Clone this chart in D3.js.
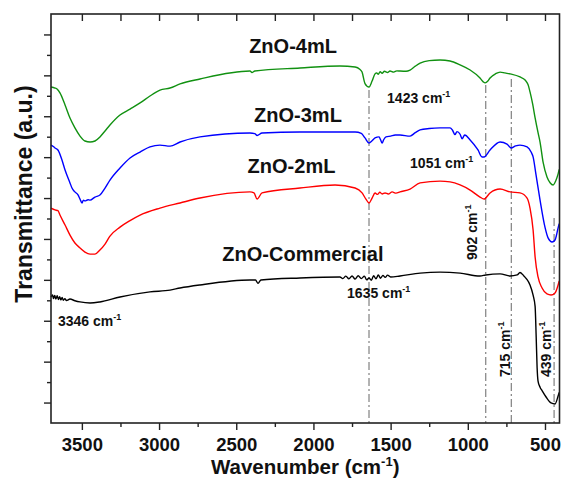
<!DOCTYPE html>
<html>
<head>
<meta charset="utf-8">
<script src="https://cdnjs.cloudflare.com/ajax/libs/d3/7.8.5/d3.min.js"></script>
<style>
  body { margin: 0; background: #fff; }
  svg { display: block; font-family: "Liberation Sans", Arial, sans-serif; font-weight: bold; }
</style>
</head>
<body>
<svg id="chart"></svg>
<script>
// FTIR spectra, [wavenumber, transmittance a.u.]
const zno4 = [
  [3700, 16.43], [3674, 16.38], [3661, 16.33], [3642, 16.14], [3609, 15.55], [3577, 14.91],
  [3545, 14.43], [3512, 14.03], [3480, 13.79], [3447, 13.74], [3415, 13.79], [3383, 13.99],
  [3350, 14.28], [3318, 14.57], [3253, 15.06], [3188, 15.35], [3123, 15.65], [3059, 15.99],
  [2994, 16.28], [2929, 16.38], [2864, 16.58], [2735, 16.82], [2411, 17.21], [2398, 17.14],
  [2380, 17.21], [2087, 17.36], [1828, 17.46], [1730, 17.41], [1700, 17.30], [1685, 17.16],
  [1666, 16.60], [1640, 16.43], [1620, 16.72], [1601, 17.07], [1590, 17.12], [1580, 17.05],
  [1568, 17.18], [1555, 17.10], [1540, 17.20], [1520, 17.14], [1504, 17.21], [1480, 17.16],
  [1460, 17.22], [1439, 17.21], [1400, 17.20], [1374, 17.26], [1340, 17.45], [1309, 17.60],
  [1250, 17.72], [1180, 17.75], [1115, 17.70], [1050, 17.51], [985, 17.26], [921, 16.87],
  [900, 16.68], [888, 16.63], [870, 16.72], [856, 16.87], [820, 17.08], [791, 17.16],
  [760, 17.12], [726, 17.07], [662, 16.92], [629, 16.77], [610, 16.55], [597, 16.19],
  [580, 15.60], [564, 14.92], [545, 14.20], [532, 13.74], [512, 12.74], [487, 12.03],
  [467, 11.75], [447, 11.64], [430, 11.85], [415, 12.18], [408, 12.40]
];

const zno3 = [
  [3700, 13.59], [3685, 13.52], [3674, 13.45], [3655, 13.35], [3629, 12.86], [3609, 12.37],
  [3577, 11.74], [3564, 11.49], [3545, 11.30], [3525, 11.15], [3512, 10.95], [3499, 10.76],
  [3490, 10.90], [3480, 10.86], [3460, 10.92], [3447, 10.90], [3415, 11.05], [3383, 11.15],
  [3350, 11.49], [3318, 11.88], [3253, 12.47], [3188, 12.96], [3123, 13.25], [3059, 13.50],
  [2994, 13.59], [2929, 13.54], [2864, 13.74], [2735, 13.99], [2411, 14.18], [2380, 14.15],
  [2365, 14.06], [2333, 14.18], [2087, 14.23], [1730, 14.23], [1690, 14.16], [1666, 13.94],
  [1640, 13.69], [1620, 13.80], [1601, 13.94], [1575, 13.99], [1565, 13.85], [1555, 13.69],
  [1545, 13.85], [1530, 13.99], [1500, 14.03], [1470, 14.08], [1439, 14.08], [1374, 14.03],
  [1340, 14.20], [1309, 14.33], [1250, 14.40], [1180, 14.43], [1115, 14.43], [1100, 14.33],
  [1083, 14.10], [1070, 14.25], [1050, 14.12], [1037, 13.90], [1020, 14.08], [985, 13.84],
  [934, 13.35], [908, 13.01], [895, 13.01], [856, 13.35], [791, 13.74], [746, 13.64],
  [720, 13.45], [690, 13.55], [662, 13.59], [616, 13.50], [590, 13.25], [577, 13.01],
  [558, 12.13], [532, 10.90], [499, 9.54], [480, 9.05], [454, 8.85], [435, 8.95],
  [415, 9.54], [408, 9.75]
];

const zno2 = [
  [3700, 10.51], [3674, 10.42], [3655, 10.38], [3642, 10.17], [3609, 9.68], [3577, 9.19],
  [3545, 8.80], [3512, 8.56], [3480, 8.36], [3447, 8.26], [3415, 8.26], [3383, 8.46],
  [3350, 8.75], [3318, 9.14], [3253, 9.58], [3188, 9.90], [3123, 10.17], [2994, 10.51],
  [2864, 10.76], [2735, 11.00], [2411, 11.30], [2385, 11.25], [2365, 10.95], [2333, 11.25],
  [2087, 11.49], [1860, 11.64], [1730, 11.49], [1685, 11.25], [1660, 10.95], [1640, 10.76],
  [1620, 11.00], [1601, 11.25], [1585, 11.18], [1570, 11.28], [1555, 11.20], [1536, 11.25],
  [1515, 11.20], [1490, 11.30], [1465, 11.24], [1439, 11.30], [1374, 11.44], [1309, 11.74],
  [1180, 11.83], [1115, 11.79], [1050, 11.64], [985, 11.39], [921, 11.05], [895, 10.95],
  [856, 11.25], [791, 11.44], [726, 11.30], [662, 11.25], [616, 11.00], [597, 10.51],
  [577, 9.44], [564, 8.12], [545, 7.14], [519, 6.60], [487, 6.31], [461, 6.26],
  [435, 6.36], [415, 6.75], [408, 6.95]
];

const znoCom = [
  [3700, 6.16], [3690, 6.26], [3684, 6.08], [3676, 6.24], [3668, 6.06], [3660, 6.22],
  [3652, 6.04], [3644, 6.18], [3636, 6.02], [3628, 6.14], [3620, 6.00], [3610, 6.08],
  [3600, 5.99], [3577, 6.06], [3545, 5.98], [3512, 5.92], [3447, 5.87], [3383, 5.92],
  [3253, 6.16], [3059, 6.41], [2929, 6.50], [2864, 6.60], [2735, 6.75], [2411, 6.99],
  [2375, 6.99], [2359, 6.83], [2340, 6.99], [2087, 7.09], [1828, 7.14], [1810, 7.06],
  [1790, 7.18], [1770, 7.05], [1750, 7.19], [1730, 7.04], [1710, 7.20], [1690, 7.06],
  [1670, 7.18], [1655, 7.00], [1640, 7.09], [1625, 6.98], [1610, 7.20], [1595, 7.05],
  [1580, 7.24], [1565, 7.08], [1550, 7.22], [1535, 7.12], [1520, 7.23], [1500, 7.14],
  [1439, 7.19], [1309, 7.33], [1180, 7.38], [1050, 7.33], [921, 7.19], [884, 7.24],
  [791, 7.29], [726, 7.19], [680, 7.24], [662, 7.36], [640, 7.22], [620, 7.05],
  [597, 6.75], [577, 6.25], [564, 5.70], [557, 4.20], [551, 2.70], [545, 2.05],
  [532, 1.75], [519, 1.58], [493, 1.27], [461, 0.98], [435, 0.93], [415, 1.32], [408, 1.50]
];

const seriesNames = ["ZnO-4mL", "ZnO-3mL", "ZnO-2mL", "ZnO-Commercial"];
const seriesColors = ["#119111", "#0000ff", "#ff0000", "#000000"];

// marker lines: wavenumber and top of the line (a.u.)
const markWn = [1640, 884, 718, 441];
const markTop = [16.28, 16.53, 16.82, 10.02];

const xTicks = [3500, 3000, 2500, 2000, 1500, 1000, 500];

let svgWidth = 561, svgHeight = 479;
let margin = { top: 14, right: 1.5, bottom: 56, left: 51 };
let width = svgWidth - margin.left - margin.right;
let height = svgHeight - margin.top - margin.bottom;

let svg = d3.select('#chart')
    .attr("width", svgWidth)
    .attr("height", svgHeight);

let g = svg.append('g')
    .attr("transform", "translate(" + margin.left + "," + margin.top + ")");

let x = d3.scaleLinear().domain([3700, 406]).range([0, width]);
let y = d3.scaleLinear().domain([0, 20]).range([height, 0]);

// dashed marker lines
g.selectAll(".mark")
    .data(markWn)
    .enter().append("line")
    .attr("x1", d => x(d)).attr("x2", d => x(d))
    .attr("y1", (d, i) => y(markTop[i]))
    .attr("y2", height)
    .attr("stroke", "#8a8a8a")
    .attr("stroke-width", 1.3)
    .attr("stroke-dasharray", "8,3,2,3");

let line = d3.line()
    .x(d => x(d[0]))
    .y(d => y(d[1]))
    .curve(d3.curveMonotoneX);

[zno4, zno3, zno2, znoCom].forEach(function (s, i) {
    g.append("path")
        .datum(s.slice().reverse())
        .attr("fill", "none")
        .attr("stroke", seriesColors[i])
        .attr("stroke-width", 1.4)
        .attr("stroke-linejoin", "round")
        .attr("d", line);
});

// axes
let minorX = d3.range(3750, 400, -250).filter(v => v <= 3700 && v >= 406 && v % 500 !== 0);
let minorY = d3.range(2, 20, 2);
let majorY = d3.range(1, 20, 2);

let xAxis = g.append("g")
    .attr("transform", "translate(0," + height + ")")
    .call(d3.axisBottom(x).tickValues(xTicks).tickSize(7).tickFormat(d3.format("d")));
xAxis.selectAll("text")
    .attr("y", 28).attr("dy", 0)
    .attr("font-size", 18.5).attr("font-family", "Liberation Sans, Arial, sans-serif")
    .attr("font-weight", "bold").attr("fill", "#111");
xAxis.select(".domain").remove();

g.append("g")
    .attr("transform", "translate(0," + height + ")")
    .call(d3.axisBottom(x).tickValues(minorX).tickSize(4).tickFormat(""))
    .select(".domain").remove();

g.append("g")
    .call(d3.axisTop(x).tickValues(d3.range(3500, 406, -250)).tickSize(-7).tickFormat(""))
    .select(".domain").remove();

g.append("g")
    .call(d3.axisLeft(y).tickValues(majorY).tickSize(7).tickFormat(""))
    .select(".domain").remove();
g.append("g")
    .call(d3.axisLeft(y).tickValues(minorY).tickSize(4).tickFormat(""))
    .select(".domain").remove();

g.selectAll(".tick line").attr("stroke", "#222").attr("stroke-width", 1.4);

g.append("rect")
    .attr("width", width).attr("height", height)
    .attr("fill", "none").attr("stroke", "#222").attr("stroke-width", 1.6);

// titles
let xt = g.append("text")
    .attr("x", width / 2).attr("y", height + 51)
    .attr("text-anchor", "middle")
    .attr("font-size", 20.5).attr("fill", "#111");
xt.append("tspan").text("Wavenumber (cm");
xt.append("tspan").attr("font-size", 13).attr("dy", -8).text("-1");
xt.append("tspan").attr("dy", 8).text(")");

svg.append("text")
    .attr("transform", "translate(32,194) rotate(-90)")
    .attr("text-anchor", "middle")
    .attr("font-size", 23).attr("fill", "#111")
    .text("Transmittance (a.u.)");

// sample labels
const nameSpots = [[2132, 18.09], [2100, 14.72], [2142, 12.22], [2068, 7.92]];
seriesNames.forEach(function (n, i) {
    g.append("text")
        .attr("x", x(nameSpots[i][0])).attr("y", y(nameSpots[i][1]))
        .attr("text-anchor", "middle")
        .attr("font-size", 20).attr("fill", "#111")
        .text(n);
});

// peak labels
const peakText = ["3346", "1635", "1423", "1051", "902", "715", "439"];
const peakSpots = [[3655, 4.74], [1782, 6.11], [1523, 15.65], [1374, 12.47], [940, 7.97], [726, 2.25], [461, 2.25]];
const peakRot = [false, false, false, false, true, true, true];

peakText.forEach(function (t, i) {
    let px = x(peakSpots[i][0]), py = y(peakSpots[i][1]);
    let tx = g.append("text")
        .attr("transform", "translate(" + px + "," + py + ")" + (peakRot[i] ? " rotate(-90)" : ""))
        .attr("font-size", 14).attr("fill", "#111");
    tx.append("tspan").text(t + " cm");
    tx.append("tspan").attr("font-size", 9).attr("dy", -6).text("-1");
});
</script>
</body>
</html>
